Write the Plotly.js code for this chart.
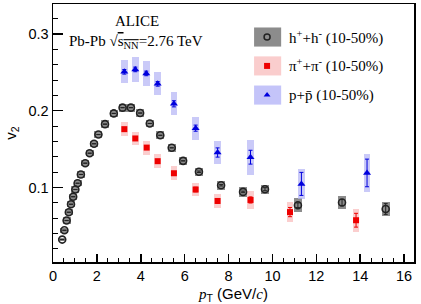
<!DOCTYPE html>
<html><head><meta charset="utf-8">
<script src="https://cdn.plot.ly/plotly-3.0.1.min.js"></script>
<style>html,body{margin:0;padding:0;background:#fff}#c{width:421px;height:304px}</style>
</head><body><div id="c"></div>
<script>
// charged hadrons h+ + h- (10-50%)
const hPt   = [0.42,0.52,0.62,0.72,0.82,0.92,1.02,1.12,1.27,1.47,1.67,1.87,2.07,2.37,2.77,3.17,3.55,3.97,4.41,4.89,5.41,5.93,6.65,7.66,8.66,9.66,11.16,13.17,15.16];
const hV2   = [0.0322,0.0443,0.057,0.0678,0.0782,0.088,0.0974,0.1056,0.117,0.1317,0.1447,0.157,0.169,0.1825,0.1965,0.204,0.204,0.197,0.1834,0.168,0.1517,0.1347,0.1205,0.103,0.0943,0.0978,0.077,0.0804,0.072];
const hStat = [0,0,0,0,0,0,0,0,0,0,0,0,0,0,0,0,0,0,0,0,0,0,0.001,0.001,0.001,0.002,0.003,0.004,0.007];
const hSys  = [0.002,0.003,0.004,0.004,0.004,0.004,0.004,0.004,0.004,0.004,0.004,0.004,0.005,0.005,0.005,0.005,0.005,0.005,0.005,0.005,0.005,0.005,0.005,0.006,0.006,0.006,0.009,0.009,0.009];
// pions pi+ + pi- (10-50%)
const piPt   = [3.25,3.75,4.27,4.77,5.51,6.5,7.5,9.0,10.8,13.81];
const piV2   = [0.176,0.1639,0.152,0.1343,0.1186,0.0974,0.0825,0.0838,0.068,0.0574];
const piStat = [0.002,0.002,0.002,0.002,0.002,0.003,0.003,0.004,0.006,0.009];
const piSys  = [0.009,0.009,0.009,0.009,0.009,0.009,0.009,0.012,0.013,0.015];
// protons p + pbar (10-50%)
const pPt   = [3.25,3.75,4.25,4.77,5.51,6.5,7.5,9.0,11.32,14.31];
const pV2   = [0.2507,0.2538,0.2486,0.235,0.209,0.1773,0.1456,0.1395,0.1047,0.119];
const pStat = [0.003,0.003,0.003,0.003,0.004,0.004,0.006,0.009,0.015,0.018];
const pSys  = [0.015,0.016,0.016,0.015,0.015,0.015,0.015,0.023,0.02,0.025];
// axis ticks
const xTicks = [0,2,4,6,8,10,12,14,16];
const yTicks = [0.1,0.2,0.3];
const legendLabels = [
  "h<sup>+</sup>+h<sup>-</sup> (10-50%)",
  "π<sup>+</sup>+π<sup>-</sup> (10-50%)",
  "p+p\u0304 (10-50%)"
];

const SERIF = "Liberation Serif, Times New Roman, serif";
const SANS = "Liberation Sans, Arial, sans-serif";

function sysBar(x, v, s, w, col){
  return {type:'bar', x:x, y:s.map(e=>2*e), base:v.map((e,i)=>e-s[i]), width:w,
    marker:{color:col, line:{width:0}}, hoverinfo:'skip', showlegend:false};
}
const traces = [
  sysBar(hPt, hV2, hSys, 0.36, '#8c8c8c'),
  sysBar(piPt, piV2, piSys, 0.3, 'rgba(250,190,190,0.75)'),
  sysBar(pPt, pV2, pSys, 0.3, 'rgba(180,180,245,0.7)'),
  {type:'scatter', mode:'markers', x:hPt, y:hV2,
   error_y:{type:'data', array:hStat, color:'#222', thickness:1, width:2},
   marker:{symbol:'circle-open', size:7, color:'#222', line:{width:1.6, color:'#222'}}, showlegend:false},
  {type:'scatter', mode:'markers', x:piPt, y:piV2,
   error_y:{type:'data', array:piStat, color:'#ee0000', thickness:1, width:2},
   marker:{symbol:'square', size:6, color:'#ee0000'}, showlegend:false},
  {type:'scatter', mode:'markers', x:pPt, y:pV2,
   error_y:{type:'data', array:pStat, color:'#0000dd', thickness:1, width:2},
   marker:{symbol:'triangle-up', size:7, color:'#0000dd'}, showlegend:false}
];

// legend (manual)
const legX = 0.593, legRows = [0.872, 0.760, 0.647];
const legCols = ['#8c8c8c','rgba(250,200,200,0.9)','rgba(190,190,248,0.9)'];
const legSyms = [{symbol:'circle-open', size:6, color:'#222', line:{width:1.5,color:'#222'}},
                 {symbol:'square', size:6, color:'#ee0000'},
                 {symbol:'triangle-up', size:6, color:'#0000dd'}];
const shapes = [];
const annotations = [];
legRows.forEach((ry,i)=>{
  shapes.push({type:'rect', xref:'paper', yref:'paper', x0:0.557, x1:0.632, y0:ry-0.037, y1:ry+0.037,
    fillcolor:legCols[i], line:{width:0}, layer:'below'});
  traces.push({type:'scatter', mode:'markers', x:[legX], y:[ry], xaxis:'x2', yaxis:'y2',
    marker:legSyms[i], showlegend:false, hoverinfo:'skip'});
  annotations.push({xref:'paper', yref:'paper', x:0.648, y:ry, xanchor:'left', yanchor:'middle',
    text:legendLabels[i], showarrow:false, font:{family:SERIF, size:15, color:'#000'}});
});
annotations.push({xref:'paper', yref:'paper', x:0.233, y:0.934, xanchor:'center', yanchor:'middle',
  text:'ALICE', showarrow:false, font:{family:SERIF, size:15, color:'#000'}});
annotations.push({xref:'paper', yref:'paper', x:0.23, y:0.853, xanchor:'center', yanchor:'middle',
  text:'Pb-Pb √<span style="text-decoration:overline">s<sub>NN</sub></span>=2.76 TeV', showarrow:false,
  font:{family:SERIF, size:15, color:'#000'}});

const layout = {
  width:421, height:304,
  margin:{l:53, r:7, t:4, b:42},
  paper_bgcolor:'#fff', plot_bgcolor:'#fff',
  barmode:'overlay', bargap:0,
  showlegend:false,
  font:{family:SANS, size:14, color:'#000'},
  xaxis:{range:[0,16.45], tickvals:xTicks, ticks:'inside', ticklen:8, tickwidth:1.5, tickcolor:'#000',
    minor:{dtick:0.5, ticks:'inside', ticklen:4, tickwidth:1, tickcolor:'#000'},
    showline:true, linewidth:1.5, linecolor:'#000', mirror:true, showgrid:false, zeroline:false,
    tickfont:{family:SANS, size:14.5},
    title:{text:'<span style="font-family:Liberation Serif"><i>p</i></span><sub>T</sub> (GeV/<span style="font-family:Liberation Serif"><i>c</i></span>)', font:{family:SANS, size:15}, standoff:6}},
  yaxis:{range:[0.003,0.339], tickvals:yTicks, ticktext:['0.1','0.2','0.3'], ticks:'inside', ticklen:10, tickwidth:1.5, tickcolor:'#000',
    minor:{dtick:0.02, tick0:0, ticks:'inside', ticklen:5, tickwidth:1, tickcolor:'#000'},
    showline:true, linewidth:1.5, linecolor:'#000', mirror:true, showgrid:false, zeroline:false,
    tickfont:{family:SANS, size:14.5},
    title:{text:'v<sub>2</sub>', font:{family:SANS, size:15}, standoff:8}},
  xaxis2:{overlaying:'x', range:[0,1], visible:false, anchor:'y2'},
  yaxis2:{overlaying:'y', range:[0,1], visible:false, anchor:'x2'},
  shapes:shapes, annotations:annotations
};
Plotly.newPlot('c', traces, layout, {displayModeBar:false, staticPlot:true});
</script></body></html>
